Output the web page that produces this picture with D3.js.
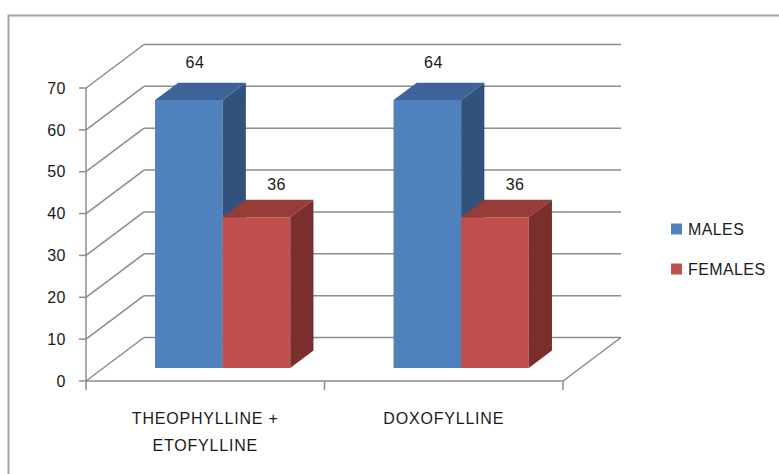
<!DOCTYPE html>
<html>
<head>
<meta charset="utf-8">
<script src="https://cdn.jsdelivr.net/npm/d3@7"></script>
<style>
  html, body { margin: 0; padding: 0; background: #fff; }
  svg { display: block; }
  text { font-family: "Liberation Sans", Arial, sans-serif; fill: #1a1a1a; }
</style>
</head>
<body>
<svg id="chart" width="779" height="474"></svg>
<script>
// ---- data ----
const categories = [["THEOPHYLLINE +", "ETOFYLLINE"], ["DOXOFYLLINE"]];
const categoryKeys = ["THEOPHYLLINE + ETOFYLLINE", "DOXOFYLLINE"];
const seriesNames = ["MALES", "FEMALES"];
const males = [64, 64];
const females = [36, 36];
const yTicks = [0, 10, 20, 30, 40, 50, 60, 70];

const seriesValues = [males, females];

// ---- layout ----
const svg = d3.select("#chart");

// front plane of the 3D box
const frontLeft = 86, frontRight = 563;
const frontBottom = 381, frontTop = 88;
// full depth of the box (front -> back wall)
const depthX = 58, depthY = -43.5;
// bars occupy the middle part of the depth
const barDepth0 = 0.3, barDepth1 = 0.7;

const colors = {
  MALES:   { front: "#4f81bd", top: "#3d6499", side: "#31527d" },
  FEMALES: { front: "#c0504d", top: "#973c39", side: "#7a2f2d" }
};

const y = d3.scaleLinear().domain([0, 70]).range([frontBottom, frontTop]);
const x0 = d3.scaleBand().domain(categoryKeys).range([0, frontRight - frontLeft])
  .paddingInner(0.433).paddingOuter(0.2165);
const x1 = d3.scaleBand().domain(seriesNames).range([0, x0.bandwidth()]);

const off = f => [depthX * f, depthY * f];

// chart frame
svg.append("rect")
  .attr("x", 8.5).attr("y", 15.5).attr("width", 820).attr("height", 520)
  .attr("fill", "none").attr("stroke", "#a3a3a3").attr("stroke-width", 2);

const grid = svg.append("g").attr("stroke", "#8c8c8c").attr("stroke-width", 1.5).attr("fill", "none");
const [bx, by] = off(1);

// back wall gridlines + left wall diagonals
yTicks.forEach(t => {
  const yy = y(t);
  grid.append("line")
    .attr("x1", frontLeft + bx).attr("y1", yy + by)
    .attr("x2", frontRight + bx).attr("y2", yy + by);
  grid.append("line")
    .attr("x1", frontLeft).attr("y1", yy)
    .attr("x2", frontLeft + bx).attr("y2", yy + by);
});

// floor front and right edges
grid.append("line").attr("x1", frontLeft).attr("y1", frontBottom)
  .attr("x2", frontRight).attr("y2", frontBottom);
grid.append("line").attr("x1", frontRight).attr("y1", frontBottom)
  .attr("x2", frontRight + bx).attr("y2", frontBottom + by);

// front value axis with ticks
grid.append("line").attr("x1", frontLeft).attr("y1", y(70))
  .attr("x2", frontLeft).attr("y2", y(0));
yTicks.forEach(t => {
  grid.append("line").attr("x1", frontLeft - 7).attr("y1", y(t))
    .attr("x2", frontLeft).attr("y2", y(t));
});
// category boundary ticks
const bounds = [0].concat(categoryKeys.map((c, i) => x0.step() * (i + 1)));
bounds.forEach(b => {
  grid.append("line").attr("x1", frontLeft + b).attr("y1", frontBottom)
    .attr("x2", frontLeft + b).attr("y2", frontBottom + 9);
});

// value axis labels
svg.append("g").selectAll("text").data(yTicks).join("text")
  .attr("x", 66).attr("y", d => y(d)).attr("dy", "0.36em")
  .attr("text-anchor", "end").attr("font-size", 16).attr("letter-spacing", 0.5)
  .text(d => d);

// bars
const [fx0, fy0] = off(barDepth0);
const [dx, dy] = off(barDepth1 - barDepth0);
const bars = svg.append("g");
const labels = svg.append("g");
const labelShift = { MALES: [-5.5, -20], FEMALES: [8.5, -16] };

categoryKeys.forEach((cat, ci) => {
  seriesNames.forEach((s, si) => {
    const v = seriesValues[si][ci];
    const xl = frontLeft + fx0 + x0(cat) + x1(s);
    const xr = xl + x1.bandwidth();
    const yt = y(v) + fy0;
    const yb = y(0) + fy0;
    const c = colors[s];
    // front face
    bars.append("path")
      .attr("d", `M${xl},${yb}L${xr},${yb}L${xr},${yt}L${xl},${yt}Z`)
      .attr("fill", c.front);
    // side face
    bars.append("path")
      .attr("d", `M${xr},${yb}L${xr + dx},${yb + dy}L${xr + dx},${yt + dy}L${xr},${yt}Z`)
      .attr("fill", c.side);
    // top face
    bars.append("path")
      .attr("d", `M${xl},${yt}L${xr},${yt}L${xr + dx},${yt + dy}L${xl + dx},${yt + dy}Z`)
      .attr("fill", c.top);
    // value label
    const sh = labelShift[s];
    labels.append("text")
      .attr("x", (xl + xr) / 2 + dx / 2 + sh[0])
      .attr("y", yt + dy + sh[1])
      .attr("dy", "0.36em")
      .attr("text-anchor", "middle").attr("font-size", 16)
      .attr("letter-spacing", 0.5)
      .text(v);
  });
});

// category labels
categoryKeys.forEach((cat, ci) => {
  const cx = frontLeft + x0.step() * (ci + 0.5);
  const t = svg.append("text").attr("text-anchor", "middle")
    .attr("font-size", 16).attr("letter-spacing", 0.8);
  categories[ci].forEach((line, li) => {
    t.append("tspan").attr("x", cx).attr("y", 418 + li * 27).attr("dy", "0.36em").text(line);
  });
});

// legend
const legend = svg.append("g");
seriesNames.forEach((s, i) => {
  const ly = 229 + i * 40;
  legend.append("rect").attr("x", 671).attr("y", ly - 5.5).attr("width", 11).attr("height", 11)
    .attr("fill", colors[s].front);
  legend.append("text").attr("x", 688).attr("y", ly).attr("dy", "0.36em")
    .attr("font-size", 16).attr("letter-spacing", 0.4).text(s);
});
</script>
</body>
</html>
